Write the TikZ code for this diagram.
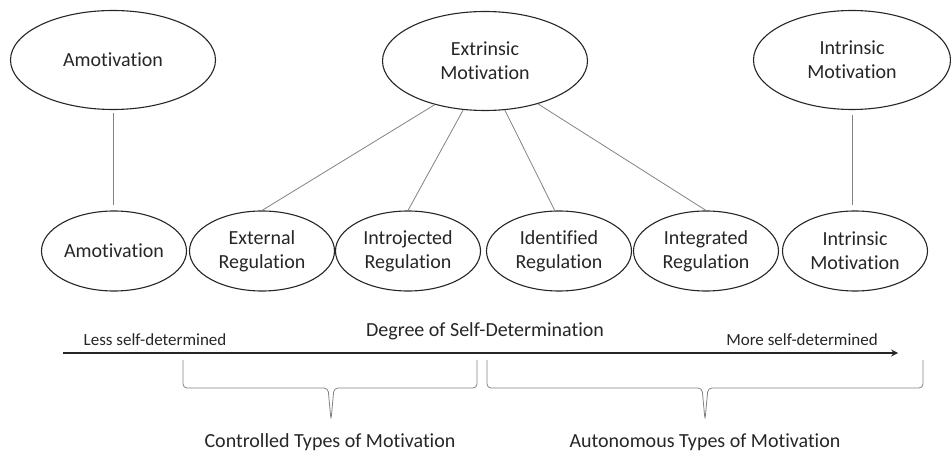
\documentclass[tikz,border=0pt]{standalone}
\usepackage{fontspec}
\setmainfont{Carlito}[Ligatures={NoCommon}]
\usepackage{xcolor}
\definecolor{ink}{RGB}{38,38,38}
\definecolor{wire}{RGB}{130,130,130}
\usepackage{tikz}
\usetikzlibrary{shapes.geometric, arrows}
\tikzstyle{blob} = [
    ellipse, draw=ink, text=ink,
    line width=1.1pt,
    inner sep=0pt, align=center,
    font=\fontsize{20}{24}\selectfont,
]
\tikzstyle{high} = [
    blob,
    minimum width=205pt,
    minimum height=99pt,
]
\tikzstyle{low} = [
    blob,
    minimum width=145pt,
    minimum height=80pt,
]
\tikzstyle{link} = [draw=wire, line width=0.8pt]
\tikzstyle{bracket} = [draw=wire, line width=0.8pt, rounded corners=4pt]
\tikzstyle{label} = [text=ink, font=\fontsize{20}{24}\selectfont]
\tikzstyle{small} = [text=ink, font=\fontsize{17}{20}\selectfont]
\tikzstyle{arrow} = [->,>=stealth, line width=2pt, draw=ink]

\begin{document}
\begin{tikzpicture}[x=1pt,y=-1pt]
    \useasboundingbox (0,0) rectangle (951,454);

    % top ellipses
    \node (amoTop) at (113,60) [high] {Amotivation};
    \node (extTop) at (485,61) [high] {Extrinsic\\Motivation};
    \node (intTop) at (852,60) [high, minimum width=197pt] {Intrinsic\\Motivation};

    % bottom ellipses
    \foreach \name/\x/\txt in {amoLow/114/Amotivation,
                               external/262/{External\\Regulation},
                               introjected/408/{Introjected\\Regulation},
                               identified/559/{Identified\\Regulation},
                               integrated/706/{Integrated\\Regulation},
                               intLow/855/{Intrinsic\\Motivation}} {
        \node (\name) at (\x,251) [low] {\txt};
    }

    % links
    \draw [link, shorten <=3pt, shorten >=5pt] (amoTop.south) to (amoTop.south |- amoLow.north);
    \draw [link, shorten <=5pt, shorten >=5pt] (intTop.south) to (intTop.south |- intLow.north);
    \draw [link] (extTop.221) to (external.north);
    \draw [link] (extTop.246) to (introjected.north);
    \draw [link] (extTop.292) to (identified.96);
    \draw [link] (extTop.321) to (integrated.north);

    % scale
    \coordinate (less) at (63,353);
    \coordinate (more) at (898,353);
    \draw [arrow] (less) to (more);
    \node (lessText) at (155,340) [small] {Less self-determined};
    \node (moreText) at (802,340) [small] {More self-determined};
    \node (degree) at (485,331) [label] {Degree of Self-Determination};

    % brackets
    \draw [bracket] (183,360) -- (183,388) -- (328,388) -- (331,420)
        -- (334,388) -- (477,388) -- (477,360);
    \draw [bracket] (487,360) -- (487,388) -- (702,388) -- (705,420)
        -- (708,388) -- (923,388) -- (923,360);
    \node (controlled) at (330,442) [label] {Controlled Types of Motivation};
    \node (autonomous) at (705,442) [label] {Autonomous Types of Motivation};
\end{tikzpicture}
\end{document}
